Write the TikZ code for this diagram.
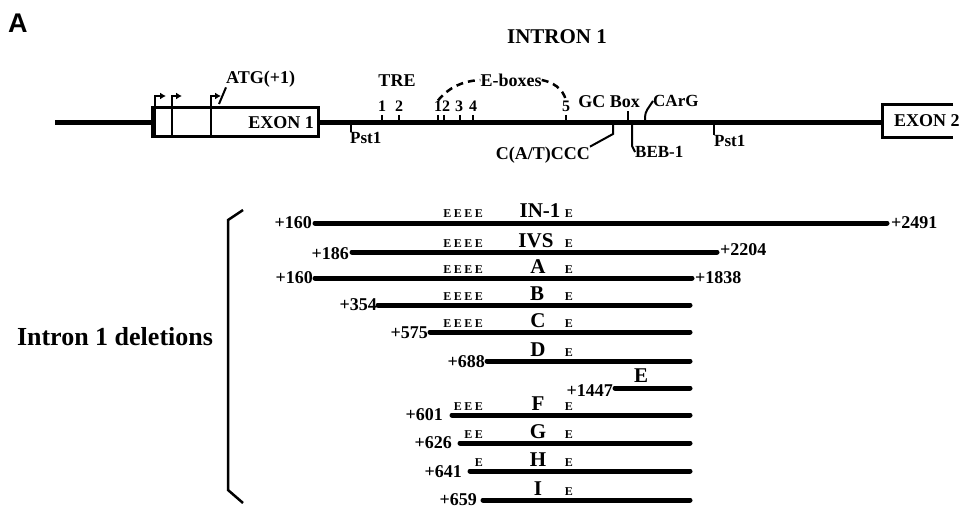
\documentclass[tikz,border=0pt]{standalone}
\usepackage{fontspec}
\setmainfont{Liberation Serif}
\newfontfamily\sanshead{Liberation Sans}
\usetikzlibrary{arrows.meta}
\tikzset{
  lbl/.style={font=\fontsize{18}{18}\selectfont\bfseries, inner sep=0pt},
  small/.style={font=\fontsize{17}{17}\selectfont\bfseries, inner sep=0pt},
  digit/.style={font=\fontsize{16}{16}\selectfont\bfseries, inner sep=0pt},
  rowname/.style={font=\fontsize{21}{21}\selectfont\bfseries, inner sep=0pt, anchor=base},
  posn/.style={font=\fontsize{18}{18}\selectfont\bfseries, inner sep=0pt},
  ebox/.style={font=\fontsize{12}{12}\selectfont\bfseries, inner sep=0pt, anchor=base east},
  dna/.style={line width=5pt},
  del/.style={line width=5pt, line cap=round},
  boxline/.style={line width=3pt},
  tick/.style={line width=2pt},
  leader/.style={line width=2pt},
  tss/.style={line width=2.5pt, -{Latex[length=6pt,width=7pt]}},
}
\newcommand{\EE}{E\kern2.5pt E\kern2.5pt E\kern2.5pt E}
\newcommand{\EEE}{E\kern2.5pt E\kern2.5pt E}
\newcommand{\EEtwo}{E\kern2.5pt E}
\begin{document}
\begin{tikzpicture}[x=1pt,y=-1pt]
\useasboundingbox (0,0) rectangle (971,513);

% panel letter and title
\node[font=\sanshead\fontsize{27}{27}\selectfont\bfseries, inner sep=0pt, anchor=west] (panA) at (8,23) {A};
\node[font=\fontsize{21}{21}\selectfont\bfseries, inner sep=0pt] (title) at (557,37) {INTRON 1};

% gene map
\coordinate (dnaL) at (55,123);
\coordinate (ex1L) at (152,123);
\coordinate (ex1R) at (318,123);
\coordinate (ex2L) at (882,123);
\draw[dna] (dnaL) -- (ex1L);
\draw[dna] (ex1R) -- (ex2L);

% exon 1 box
\draw[boxline] (152,108) rectangle (318,137);
\node[lbl, anchor=east] (ex1txt) at (314,123) {EXON 1};

% transcription start sites
\coordinate (t1b) at (155,137); \coordinate (t1t) at (155,96); \coordinate (t1e) at (166,96);
\coordinate (t2b) at (172,137); \coordinate (t2t) at (172,96); \coordinate (t2e) at (182,96);
\coordinate (t3b) at (211,137); \coordinate (t3t) at (211,96); \coordinate (t3e) at (221,96);
\draw[tss] (t1b) -- (t1t) -- (t1e);
\draw[tss] (t2b) -- (t2t) -- (t2e);
\draw[tss] (t3b) -- (t3t) -- (t3e);
\node[lbl, anchor=west] (atg) at (226,79) {ATG(+1)};
\coordinate (atgp) at (219,104);
\draw[leader] (atgp) -- (atg.south west);

% exon 2 box (open on the right)
\draw[boxline] (953,105) -- (882,105) -- (882,138) -- (953,138);
\node[lbl, anchor=west] (ex2txt) at (894,121) {EXON 2};

% Pst1 sites
\node[small, anchor=north west] (pst1) at (350,132) {Pst1};
\draw[tick] (351,125) -- (351,132);
\node[small, anchor=north west] (pst2) at (714,135) {Pst1};
\draw[tick] (714,125) -- (714,135);

% TRE
\node[lbl] (tre) at (397,81) {TRE};
\foreach \n/\x/\t in {tA/382/1, tB/399/2}{
  \node[digit] (\n) at (\x,106) {\t};
  \draw[tick] (\x,115) -- (\x,121);
}
% E-box digits
\foreach \n/\x/\t in {eA/438/1, eB/446/2, eC/459/3, eD/473/4, eE/566/5}{
  \node[digit] (\n) at (\x,106) {\t};
}
\foreach \x in {438,444,460,473,566}{
  \draw[tick] (\x,115) -- (\x,121);
}
\node[lbl] (eboxes) at (511,80) {E-boxes};
\draw[leader, line width=2.5pt, dash pattern=on 7pt off 5pt] (eA.north) .. controls (448,88) and (462,81) .. (eboxes.west);
\draw[leader, line width=2.5pt, dash pattern=on 7pt off 5pt] (eboxes.east) .. controls (552,82) and (563,88) .. (eE.north);

% GC box, CArG, BEB-1, C(A/T)CCC
\node[lbl] (gcbox) at (609,102) {GC Box};
\draw[tick] (628,121) -- (628,111);
\node[small, anchor=west] (carg) at (653,101) {CArG};
\draw[leader, rounded corners=4pt] (645,121) -- (645,113) -- (carg.west);
\node[small, anchor=west] (beb) at (635,152) {BEB-1};
\draw[tick] (632,125) -- (632,146) -- (beb.west);
\node[lbl, anchor=east] (cat) at (590,155) {C(A/T)CCC};
\draw[leader] (613,125) -- (613,134) -- (cat.north east);

% bracket and label
\draw[line width=2.5pt] (243,210) -- (228,220) -- (228,490) -- (243,503);
\node[font=\fontsize{26}{26}\selectfont\bfseries, inner sep=0pt] (dellab) at (115,337) {Intron 1 deletions};

% deletion constructs
\coordinate (r1s) at (315,223); \coordinate (r1e) at (887,223);
\draw[del] (r1s) -- (r1e);
\node[posn, anchor=east] (r1l) at (312,223) {+160};
\node[posn, anchor=west] (r1r) at (891,223) {+2491};
\node[rowname] (r1n) at (540,218) {IN-1};

\coordinate (r2s) at (352,252); \coordinate (r2e) at (717,252);
\draw[del] (r2s) -- (r2e);
\node[posn, anchor=east] (r2l) at (349,254) {+186};
\node[posn, anchor=west] (r2r) at (720,250) {+2204};
\node[rowname] (r2n) at (536,247) {IVS};

\coordinate (r3s) at (315,278); \coordinate (r3e) at (692,278);
\draw[del] (r3s) -- (r3e);
\node[posn, anchor=east] (r3l) at (313,278) {+160};
\node[posn, anchor=west] (r3r) at (695,278) {+1838};
\node[rowname] (r3n) at (538,273) {A};

\coordinate (r4s) at (378,305); \coordinate (r4e) at (690,305);
\draw[del] (r4s) -- (r4e);
\node[posn, anchor=east] (r4l) at (377,305) {+354};
\node[rowname] (r4n) at (537,300) {B};

\coordinate (r5s) at (430,332); \coordinate (r5e) at (690,332);
\draw[del] (r5s) -- (r5e);
\node[posn, anchor=east] (r5l) at (428,333) {+575};
\node[rowname] (r5n) at (538,327) {C};

\coordinate (r6s) at (487,361); \coordinate (r6e) at (690,361);
\draw[del] (r6s) -- (r6e);
\node[posn, anchor=east] (r6l) at (485,362) {+688};
\node[rowname] (r6n) at (538,356) {D};

\coordinate (r7s) at (615,388); \coordinate (r7e) at (690,388);
\draw[del] (r7s) -- (r7e);
\node[posn, anchor=east] (r7l) at (613,391) {+1447};
\node[rowname] (r7n) at (641,382) {E};

\coordinate (r8s) at (452,415); \coordinate (r8e) at (690,415);
\draw[del] (r8s) -- (r8e);
\node[posn, anchor=east] (r8l) at (443,415) {+601};
\node[rowname] (r8n) at (538,410) {F};

\coordinate (r9s) at (460,443); \coordinate (r9e) at (690,443);
\draw[del] (r9s) -- (r9e);
\node[posn, anchor=east] (r9l) at (452,443) {+626};
\node[rowname] (r9n) at (538,438) {G};

\coordinate (r10s) at (470,471); \coordinate (r10e) at (690,471);
\draw[del] (r10s) -- (r10e);
\node[posn, anchor=east] (r10l) at (462,472) {+641};
\node[rowname] (r10n) at (538,466) {H};

\coordinate (r11s) at (483,500); \coordinate (r11e) at (690,500);
\draw[del] (r11s) -- (r11e);
\node[posn, anchor=east] (r11l) at (477,500) {+659};
\node[rowname] (r11n) at (538,495) {I};

% E-box marks on constructs
\node[ebox] (m1) at (483,218) {\EE};
\node[ebox] (m2) at (483,247) {\EE};
\node[ebox] (m3) at (483,273) {\EE};
\node[ebox] (m4) at (483,300) {\EE};
\node[ebox] (m5) at (483,327) {\EE};
\node[ebox] (m8) at (483,410) {\EEE};
\node[ebox] (m9) at (483,438) {\EEtwo};
\node[ebox] (m10) at (483,466) {E};
\node[ebox] (s1) at (573,218) {E};
\node[ebox] (s2) at (573,247) {E};
\node[ebox] (s3) at (573,273) {E};
\node[ebox] (s4) at (573,300) {E};
\node[ebox] (s5) at (573,327) {E};
\node[ebox] (s6) at (573,356) {E};
\node[ebox] (s8) at (573,410) {E};
\node[ebox] (s9) at (573,438) {E};
\node[ebox] (s10) at (573,466) {E};
\node[ebox] (s11) at (573,495) {E};
\end{tikzpicture}
\end{document}
